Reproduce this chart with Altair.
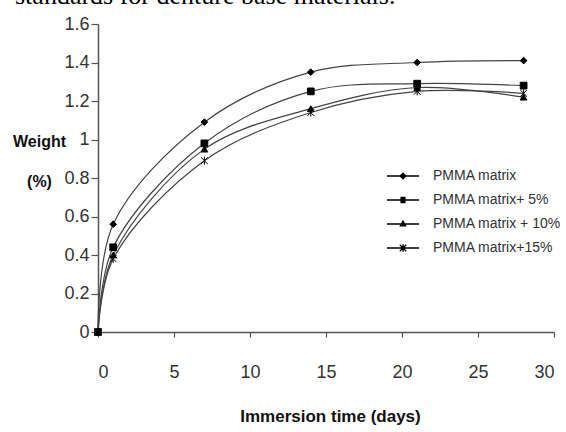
import altair as alt
import pandas as pd

days = [0, 1, 7, 14, 21, 28]
series_names = ["PMMA matrix", "PMMA matrix+ 5%", "PMMA matrix + 10%", "PMMA matrix+15%"]
pmma = [0.0, 0.56, 1.09, 1.35, 1.40, 1.41]
pmma5 = [0.0, 0.44, 0.98, 1.25, 1.29, 1.28]
pmma10 = [0.0, 0.40, 0.95, 1.16, 1.27, 1.22]
pmma15 = [0.0, 0.38, 0.89, 1.14, 1.25, 1.24]
y_ticks = [0, 0.2, 0.4, 0.6, 0.8, 1.0, 1.2, 1.4, 1.6]
x_ticks = [0, 5, 10, 15, 20, 25, 30]

rows = []
for name, vals in zip(series_names, [pmma, pmma5, pmma10, pmma15]):
    for d, v in zip(days, vals):
        rows.append({"x": d, "y": v, "series": name})
df = pd.DataFrame(rows)

SANS = "Liberation Sans, Arial, sans-serif"

asterisk = "M-1,-1L1,1M-1,1L1,-1M0,-1.2L0,1.2"
plot_shapes = ["diamond", "square", "triangle-up", asterisk]
# legend symbols: a line segment with a (stroked, nested = solid looking) marker
legend_shapes = [
    "M-1,0L1,0M0,-0.18L0.18,0L0,0.18L-0.18,0ZM0,-0.1L0.1,0L0,0.1L-0.1,0ZM0,-0.03L0.03,0L0,0.03L-0.03,0Z",
    "M-1,0L1,0M-0.12,-0.16L0.12,-0.16L0.12,0.16L-0.12,0.16ZM-0.06,-0.1L0.06,-0.1L0.06,0.1L-0.06,0.1ZM0,-0.05L0,0.05",
    "M-1,0L1,0M0,-0.18L0.16,0.12L-0.16,0.12ZM0,-0.08L0.07,0.06L-0.07,0.06Z",
    "M-1,0L1,0M-0.2,-0.2L0.2,0.2M-0.2,0.2L0.2,-0.2M0,-0.24L0,0.24",
]

xenc = alt.X("x:Q", scale=alt.Scale(domain=[0, 30], nice=False),
             axis=alt.Axis(values=x_ticks, title="Immersion time (days)", grid=False,
                           labelFont=SANS, labelFontSize=18, labelPadding=26, tickSize=5,
                           titleFont=SANS, titleFontSize=17, titleFontWeight="bold",
                           titleX=232, titleY=89, titleBaseline="alphabetic"))
yenc = alt.Y("y:Q", scale=alt.Scale(domain=[0, 1.6], nice=False),
             axis=alt.Axis(values=y_ticks, format=".1~f", title=["Weight", "(%)"], grid=False,
                           labelFont=SANS, labelFontSize=18, labelPadding=2, tickSize=7,
                           titleFont=SANS, titleFontSize=16, titleFontWeight="bold",
                           titleAngle=0, titleAlign="center", titleBaseline="top",
                           titleX=-59, titleY=109, titleLineHeight=40))

base = alt.Chart(df)
lines = base.mark_line(interpolate="catmull-rom", color="#444444", strokeWidth=1.2).encode(
    x=xenc, y=yenc, detail="series:N")
points = base.mark_point(filled=True, fill="black", stroke="black", strokeWidth=1, size=45, opacity=1).encode(
    x=xenc, y=yenc,
    shape=alt.Shape("series:N", scale=alt.Scale(domain=series_names, range=plot_shapes), legend=None))
legend_layer = base.transform_filter("datum.x > 1000").mark_point(
    filled=False, color="black", strokeWidth=1.3, opacity=1).encode(
    x=xenc, y=yenc,
    shape=alt.Shape("series:N", scale=alt.Scale(domain=series_names, range=legend_shapes),
                    legend=alt.Legend(title=None, orient="none", legendX=288, legendY=135,
                                      symbolSize=1024, labelFont=SANS, labelFontSize=14,
                                      labelColor="#333333", labelOffset=13, rowPadding=0,
                                      padding=0, symbolStrokeWidth=1.3,
                                      symbolStrokeColor="black", symbolOpacity=1)))

chart = alt.layer(lines, points, legend_layer).resolve_scale(shape="independent").properties(
    width=456, height=308,
    autosize=alt.AutoSizeParams(type="none"),
    padding={"left": 98, "top": 24, "right": 12, "bottom": 100},
    title=alt.TitleParams("standards for denture base materials.", anchor="start", frame="group",
                          font="Liberation Serif, DejaVu Serif, serif", fontSize=26,
                          fontWeight="normal", color="black", dx=-83, dy=15, offset=0,
                          baseline="alphabetic"),
).configure_view(stroke=None).configure_axis(
    domainColor="#555555", tickColor="#555555", labelColor="#333333", titleColor="#111111",
    domainWidth=1.5, tickWidth=1.2)

chart.save("out.html", embed_options={"renderer": "svg", "actions": False})
